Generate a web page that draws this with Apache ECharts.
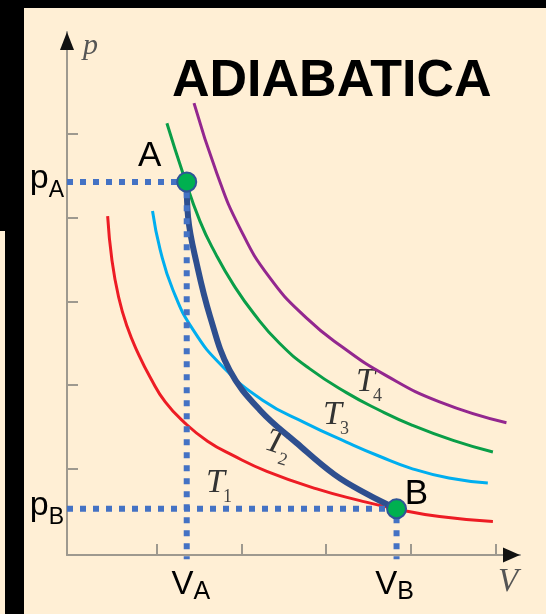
<!DOCTYPE html>
<html>
<head>
<meta charset="utf-8">
<script src="https://cdn.jsdelivr.net/npm/echarts@6/dist/echarts.min.js"></script>
<style>
  html, body { margin: 0; padding: 0; background: #FFEFD5; }
  #chart { width: 546px; height: 614px; }
</style>
</head>
<body>
<div id="chart"></div>
<script>
// Isotherms on the p-V plane: pairs of [V, p]
const isoT1 = [[0.42, 4.02], [0.47, 3.50], [0.55, 3.05], [0.65, 2.70], [0.78, 2.38], [0.93, 2.08],
               [1.10, 1.80], [1.33, 1.55], [1.60, 1.33], [1.90, 1.16], [2.30, 0.97], [2.89, 0.76],
               [3.40, 0.62], [3.83, 0.52], [4.34, 0.43], [4.97, 0.37]];
const isoT2 = [[0.95, 4.08], [1.04, 3.62], [1.19, 3.14], [1.43, 2.66], [1.78, 2.22], [2.25, 1.82],
               [2.77, 1.54], [3.24, 1.32], [3.63, 1.15], [4.02, 1.00], [4.45, 0.89], [4.91, 0.83]];
const isoT3 = [[1.12, 5.13], [1.31, 4.53], [1.51, 3.96], [1.70, 3.56], [1.90, 3.21], [2.15, 2.85],
               [2.45, 2.50], [2.80, 2.20], [3.24, 1.91], [3.63, 1.70], [4.02, 1.52], [4.50, 1.34],
               [4.97, 1.20]];
const isoT4 = [[1.44, 5.37], [1.71, 4.53], [1.98, 3.88], [2.33, 3.29], [2.77, 2.80], [3.20, 2.45],
               [3.70, 2.12], [4.34, 1.80], [5.13, 1.55]];

// Adiabatic transformation from A to B
const adiabat = [[1.354, 4.427], [1.37, 4.01], [1.47, 3.46], [1.63, 2.82], [1.86, 2.18], [2.22, 1.70],
                 [2.65, 1.31], [3.10, 0.93], [3.48, 0.70], [3.832, 0.522]];

// End states
const stateNames = ['A', 'B'];
const stateV = [1.354, 3.832];
const stateP = [4.427, 0.522];

// Axis ticks
const vTicks = [1, 2, 3, 4, 5];
const pTicks = [1, 2, 3, 4, 5];

const V_MIN = -0.06, V_MAX = 5.29, P_MIN = -0.03, P_MAX = 6.22;
const GUIDE_BELOW = -0.08;

const chart = echarts.init(document.getElementById('chart'), null, { renderer: 'canvas' });

const axisGray = '#9E998F';
const sans = 'Liberation Sans, Arial, sans-serif';
const serif = 'Liberation Serif, Times New Roman, serif';

function isoSeries(data, color) {
  return {
    type: 'line', data: data, smooth: 0.5, showSymbol: false, symbol: 'none',
    lineStyle: { color: color, width: 3 }, z: 2, silent: true
  };
}

function guideSeries(i) {
  return {
    type: 'line', clip: false, symbol: 'none', silent: true, z: 4,
    data: [[V_MIN, stateP[i]], [stateV[i], stateP[i]], [stateV[i], GUIDE_BELOW]],
    lineStyle: { color: '#4472C4', width: 6, type: [6, 7], cap: 'butt' }
  };
}

const option = {
  backgroundColor: '#FFEFD5',
  animation: false,
  grid: { left: 67, right: 26, top: 32, bottom: 59, outerBoundsMode: 'none' },
  xAxis: {
    type: 'value', min: V_MIN, max: V_MAX,
    axisLine: { show: true, onZero: false, lineStyle: { color: axisGray, width: 2 } },
    axisTick: { show: true, inside: true, length: 11, customValues: vTicks, lineStyle: { color: axisGray, width: 2 } },
    splitLine: { show: false },
    axisLabel: {
      show: true, customValues: stateV, margin: 9,
      formatter: (v) => {
        const i = stateV.indexOf(v);
        return '{m' + i + '|V}{s|' + stateNames[i] + '}';
      },
      rich: {
        m0: { fontSize: 33, fontFamily: sans, color: '#000', padding: [0, 0, 0, 12] },
        m1: { fontSize: 33, fontFamily: sans, color: '#000', padding: [0, 0, 0, 0] },
        s: { fontSize: 25, fontFamily: sans, color: '#000', padding: [16, 4, 0, 0] }
      }
    }
  },
  yAxis: {
    type: 'value', min: P_MIN, max: P_MAX,
    axisLine: { show: true, onZero: false, lineStyle: { color: axisGray, width: 2 } },
    axisTick: { show: true, inside: true, length: 11, customValues: pTicks, lineStyle: { color: axisGray, width: 2 } },
    splitLine: { show: false },
    axisLabel: {
      show: true, customValues: stateP, margin: 3,
      formatter: (v) => '{m|p}{s|' + stateNames[stateP.indexOf(v)] + '}',
      rich: {
        m: { fontSize: 34, fontFamily: sans, color: '#000', padding: [0, 0, 6, 0] },
        s: { fontSize: 23, fontFamily: sans, color: '#000', padding: [18, 0, 0, 0] }
      }
    }
  },
  series: [
    isoSeries(isoT1, '#ED1C24'),
    isoSeries(isoT2, '#00AEEF'),
    isoSeries(isoT3, '#0A9E48'),
    isoSeries(isoT4, '#93278F'),
    {
      type: 'line', data: adiabat, smooth: 0.4, symbol: 'none', silent: true, z: 3,
      lineStyle: { color: '#2E4F8F', width: 6, cap: 'round' }
    },
    guideSeries(0),
    guideSeries(1),
    {
      type: 'scatter', z: 6, silent: true,
      data: stateNames.map((n, i) => ({ name: n, value: [stateV[i], stateP[i]] })),
      symbol: 'circle', symbolSize: 19,
      itemStyle: { color: '#00B050', borderColor: '#2F5597', borderWidth: 2, opacity: 1 },
      label: {
        show: true, formatter: '{b}', position: 'inside', fontSize: 35, fontFamily: sans, color: '#000'
      },
      labelLayout: (p) => p.dataIndex === 0 ? { dx: -37, dy: -26 } : { dx: 20, dy: -14 }
    }
  ]
};

chart.setOption(option);

// Axis arrowheads, axis names, isotherm labels, title and frame
const o = chart.convertToPixel({ gridIndex: 0 }, [V_MIN, P_MIN]);
const xe = chart.convertToPixel({ gridIndex: 0 }, [V_MAX, P_MIN]);
const ye = chart.convertToPixel({ gridIndex: 0 }, [V_MIN, P_MAX]);

function tLabel(x, y, digit, rot) {
  return {
    type: 'group', x: x, y: y, rotation: rot || 0,
    children: [
      { type: 'text', x: 0, y: 0, style: { text: 'T', font: 'italic 34px ' + serif, fill: '#333', textAlign: 'left', textVerticalAlign: 'top' } },
      { type: 'text', x: 17, y: 22, style: { text: digit, font: '18px ' + serif, fill: '#444', textAlign: 'left', textVerticalAlign: 'top' } }
    ]
  };
}

chart.setOption({
  graphic: [
    // arrowheads
    { type: 'polygon', z: 10, shape: { points: [[xe[0], o[1]], [xe[0] - 17, o[1] - 7.5], [xe[0] - 17, o[1] + 7.5]] }, style: { fill: '#111' } },
    { type: 'polygon', z: 10, shape: { points: [[o[0], ye[1]], [o[0] - 7, ye[1] + 18], [o[0] + 7, ye[1] + 18]] }, style: { fill: '#111' } },
    // axis names
    { type: 'text', z: 10, x: o[0] + 16, y: ye[1] + 14, style: { text: 'p', font: 'italic 30px ' + serif, fill: '#555', textAlign: 'left', textVerticalAlign: 'middle' } },
    { type: 'text', z: 10, x: xe[0] - 22, y: o[1] + 27, style: { text: 'V', font: 'italic 33px ' + serif, fill: '#555', textAlign: 'left', textVerticalAlign: 'middle' } },
    // isotherm labels
    tLabel(206, 466, '1', 0),
    tLabel(271, 424, '2', -0.3),
    tLabel(323, 398, '3', 0),
    tLabel(356, 365, '4', 0),
    // title
    { type: 'text', z: 10, x: 172, y: 82, style: { text: 'ADIABATICA', font: 'bold 52px ' + sans, fill: '#000', textAlign: 'left', textVerticalAlign: 'middle' } },
    // frame
    { type: 'rect', z: 20, shape: { x: 0, y: 0, width: 546, height: 8 }, style: { fill: '#000' } },
    { type: 'rect', z: 20, shape: { x: 0, y: 0, width: 24, height: 614 }, style: { fill: '#000' } },
    { type: 'rect', z: 21, shape: { x: 0, y: 231, width: 5, height: 383 }, style: { fill: '#FFEFD5' } },
    { type: 'text', z: 22, x: 8, y: 6, style: { text: 'Cose', font: 'bold 26px ' + sans, fill: '#fff', textAlign: 'left', textVerticalAlign: 'bottom' } }
  ]
});
</script>
</body>
</html>
